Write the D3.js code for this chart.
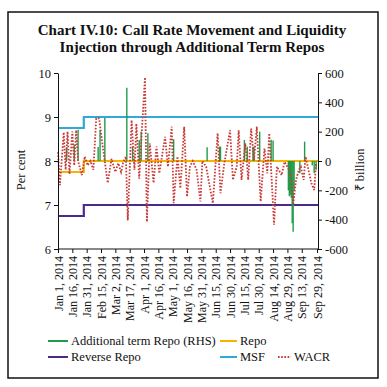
<!DOCTYPE html>
<html>
<head>
<meta charset="utf-8">
<script src="https://cdn.jsdelivr.net/npm/d3@7"></script>
<style>
  body { margin: 0; background: #fff; }
  text { font-family: "Liberation Serif", serif; fill: #111; }
  .axis path, .axis line { stroke: #111; }
</style>
</head>
<body>
<div id="chart"></div>
<script>
// policy rate corridor (per cent), changed on Jan 28
var policyDates = ["2014-01-01", "2014-01-28", "2014-09-30"];
var repo = [7.75, 8.0, 8.0];
var reverseRepo = [6.75, 7.0, 7.0];
var msf = [8.75, 9.0, 9.0];

// weighted average call rate (per cent)
var wacrDates = ["2014-01-01","2014-01-03","2014-01-07","2014-01-09","2014-01-11","2014-01-13","2014-01-16","2014-01-18",
  "2014-01-20","2014-01-22","2014-01-26","2014-01-29","2014-02-01","2014-02-04","2014-02-07","2014-02-10","2014-02-13",
  "2014-02-17","2014-02-22","2014-02-26","2014-03-02","2014-03-05","2014-03-08","2014-03-10","2014-03-13","2014-03-15",
  "2014-03-19","2014-03-22","2014-03-24","2014-03-27","2014-03-30","2014-04-02","2014-04-04","2014-04-07","2014-04-11",
  "2014-04-14","2014-04-17","2014-04-23","2014-04-26","2014-04-30","2014-05-02","2014-05-06","2014-05-09","2014-05-13",
  "2014-05-16","2014-05-19","2014-05-22","2014-05-26","2014-05-30","2014-06-01","2014-06-05","2014-06-12","2014-06-17",
  "2014-06-20","2014-06-24","2014-06-30","2014-07-03","2014-07-07","2014-07-09","2014-07-12","2014-07-16","2014-07-19",
  "2014-07-22","2014-07-25","2014-07-28","2014-08-01","2014-08-05","2014-08-08","2014-08-10","2014-08-15","2014-08-18",
  "2014-08-23","2014-08-26","2014-08-30","2014-09-02","2014-09-04","2014-09-07","2014-09-10","2014-09-12","2014-09-15",
  "2014-09-17","2014-09-20","2014-09-23","2014-09-26","2014-09-28"];
var wacr = [8.2,7.45,8.65,7.8,8.67,7.7,8.67,7.9,
  8.7,8.0,7.68,8.1,7.9,8.0,7.8,8.97,8.97,
  8.3,7.5,8.05,7.75,7.95,7.75,7.95,8.1,6.65,
  8.93,7.8,8.85,7.6,8.8,9.9,6.62,8.4,7.5,
  8.33,7.72,8.55,7.87,8.78,7.04,8.1,7.38,8.78,
  7.19,7.87,8.0,7.8,7.08,8.0,7.87,7.04,8.63,
  7.27,7.95,8.7,7.57,7.87,8.7,7.57,8.4,7.57,
  8.74,8.02,8.78,7.08,8.28,7.72,8.63,6.55,7.87,
  7.68,7.98,7.83,7.64,7.0,7.57,7.8,7.87,7.57,
  8.1,7.8,7.5,7.34,7.95];

// additional term repo (₹ billion, RHS)
var termRepoDates = ["2014-01-10","2014-01-18","2014-01-22","2014-02-12","2014-02-14","2014-02-19","2014-03-14",
  "2014-03-20","2014-03-27","2014-03-29","2014-04-05","2014-05-02","2014-06-06","2014-06-19","2014-06-20",
  "2014-07-15","2014-07-18","2014-07-24","2014-07-25","2014-07-31","2014-08-12","2014-08-14",
  "2014-08-30","2014-08-31","2014-09-01","2014-09-02","2014-09-03","2014-09-04","2014-09-05",
  "2014-09-11","2014-09-16","2014-09-24","2014-09-26","2014-09-28"];
var termRepo = [94,110,213,95,213,293,499,
  98,144,201,190,148,93,98,98,
  143,98,98,98,200,145,140,
  -200,-240,-230,-250,-425,-482,-200,
  -84,132,-30,-84,-60];

var tickDates = ["2014-01-01","2014-01-16","2014-01-31","2014-02-15","2014-03-02","2014-03-17","2014-04-01",
  "2014-04-16","2014-05-01","2014-05-16","2014-05-31","2014-06-15","2014-06-30","2014-07-15","2014-07-30",
  "2014-08-14","2014-08-29","2014-09-13","2014-09-29"];
var leftTicks = [6, 7, 8, 9, 10];
var rightTicks = [-600, -400, -200, 0, 200, 400, 600];

var parse = d3.timeParse("%Y-%m-%d");

var width = 387, height = 387;
var plot = {left: 58, right: 318, top: 73, bottom: 249};

var x = d3.scaleTime()
    .domain([parse("2014-01-01"), parse("2014-09-30")])
    .range([plot.left, plot.right]);
var yL = d3.scaleLinear().domain([6, 10]).range([plot.bottom, plot.top]);
var yR = d3.scaleLinear().domain([-600, 600]).range([plot.bottom, plot.top]);

var svg = d3.select("#chart").append("svg")
    .attr("width", width)
    .attr("height", height);

// frame
svg.append("rect")
    .attr("x", 8).attr("y", 12)
    .attr("width", 370).attr("height", 366)
    .attr("fill", "none")
    .attr("stroke", "#111")
    .attr("stroke-width", 1.5);

// title
svg.append("text")
    .attr("x", 192).attr("y", 35)
    .attr("text-anchor", "middle")
    .style("font-size", "15px")
    .style("font-weight", "bold")
    .text("Chart IV.10: Call Rate Movement and Liquidity");
svg.append("text")
    .attr("x", 192).attr("y", 52)
    .attr("text-anchor", "middle")
    .style("font-size", "15px")
    .style("font-weight", "bold")
    .text("Injection through Additional Term Repos");

// policy lines
var stepLine = d3.line()
    .x(function(d) { return x(d.date); })
    .y(function(d) { return yL(d.v); })
    .curve(d3.curveStepAfter);

function policySeries(vals) {
    return policyDates.map(function(d, i) { return {date: parse(d), v: vals[i]}; });
}

var policy = [
    {vals: msf, color: "#2fa8de"},
    {vals: reverseRepo, color: "#4b2a8c"},
    {vals: repo, color: "#f6b300"}
];
policy.forEach(function(p) {
    svg.append("path")
        .datum(policySeries(p.vals))
        .attr("d", stepLine)
        .attr("fill", "none")
        .attr("stroke", p.color)
        .attr("stroke-width", 2.2);
});

// additional term repo spikes
var repoData = termRepoDates.map(function(d, i) { return {date: parse(d), v: termRepo[i]}; });
svg.selectAll(".term")
    .data(repoData)
    .enter()
    .append("line")
    .attr("class", "term")
    .attr("x1", function(d) { return x(d.date); })
    .attr("x2", function(d) { return x(d.date); })
    .attr("y1", yR(0))
    .attr("y2", function(d) { return yR(d.v); })
    .attr("stroke", "#1f9b4a")
    .attr("stroke-width", 1.4);

// WACR dotted line
var wacrData = wacrDates.map(function(d, i) { return {date: parse(d), v: wacr[i]}; });
svg.append("path")
    .datum(wacrData)
    .attr("d", d3.line()
        .x(function(d) { return x(d.date); })
        .y(function(d) { return yL(d.v); }))
    .attr("fill", "none")
    .attr("stroke", "#c83a36")
    .attr("stroke-width", 1.8)
    .attr("stroke-dasharray", "1.6,1.6");

// axes
svg.append("g")
    .attr("class", "axis")
    .attr("transform", "translate(" + plot.left + ",0)")
    .call(d3.axisLeft(yL).tickValues(leftTicks).tickSize(4).tickSizeOuter(0)
        .tickFormat(function(d) { return String(d); }))
    .selectAll("text").style("font-size", "12.5px");

svg.append("g")
    .attr("class", "axis")
    .attr("transform", "translate(" + plot.right + ",0)")
    .call(d3.axisRight(yR).tickValues(rightTicks).tickSize(4).tickSizeOuter(0)
        .tickFormat(function(d) { return String(d); }))
    .selectAll("text").style("font-size", "12.5px");

var fmt = d3.timeFormat("%b %-d, %Y");
var xAxis = svg.append("g")
    .attr("class", "axis")
    .attr("transform", "translate(0," + plot.bottom + ")")
    .call(d3.axisBottom(x).tickValues(tickDates.map(parse)).tickSize(4).tickSizeOuter(0).tickFormat(fmt));
xAxis.select(".domain").attr("d", "M" + plot.left + ",0H" + plot.right);
xAxis.selectAll("text")
    .style("font-size", "12px")
    .attr("text-anchor", "end")
    .attr("transform", "rotate(-90)")
    .attr("x", -7)
    .attr("y", 0)
    .attr("dy", "0.35em");

// axis titles
svg.append("text")
    .attr("transform", "translate(25,170) rotate(-90)")
    .attr("text-anchor", "middle")
    .style("font-size", "12.5px")
    .text("Per cent");
svg.append("text")
    .attr("transform", "translate(364,170) rotate(-90)")
    .attr("text-anchor", "middle")
    .style("font-size", "12.5px")
    .text("₹ billion");

// legend
var legend = [
    {label: "Additional term Repo (RHS)", color: "#1f9b4a", x: 48, y: 341, len: 20, dash: null},
    {label: "Repo", color: "#f6b300", x: 220, y: 341, len: 17, dash: null},
    {label: "Reverse Repo", color: "#4b2a8c", x: 48, y: 357, len: 20, dash: null},
    {label: "MSF", color: "#2fa8de", x: 220, y: 357, len: 17, dash: null},
    {label: "WACR", color: "#c83a36", x: 278, y: 357, len: 13, dash: "1.6,1.6"}
];
legend.forEach(function(l) {
    svg.append("line")
        .attr("x1", l.x).attr("x2", l.x + l.len)
        .attr("y1", l.y).attr("y2", l.y)
        .attr("stroke", l.color)
        .attr("stroke-width", 2)
        .attr("stroke-dasharray", l.dash);
    svg.append("text")
        .attr("x", l.x + l.len + 3)
        .attr("y", l.y)
        .attr("dy", "0.33em")
        .style("font-size", "12.5px")
        .text(l.label);
});
</script>
</body>
</html>
